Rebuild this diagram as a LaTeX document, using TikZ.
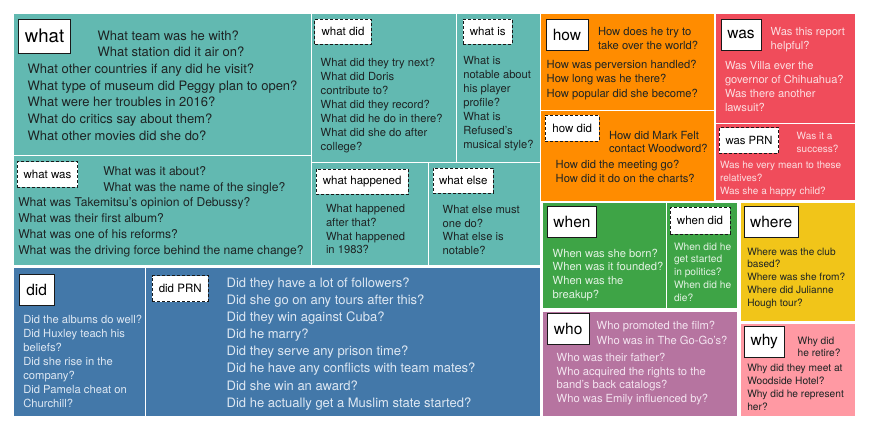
\documentclass[tikz,border=0pt]{standalone}
\usepackage{fontspec}
\setmainfont{TeX Gyre Heros}
\definecolor{cteal}{RGB}{98,185,177}
\definecolor{cblue}{RGB}{67,120,169}
\definecolor{corange}{RGB}{255,140,0}
\definecolor{cred}{RGB}{240,76,91}
\definecolor{cgreen}{RGB}{62,164,70}
\definecolor{cyellow}{RGB}{241,197,25}
\definecolor{cpurple}{RGB}{182,116,160}
\definecolor{cpink}{RGB}{255,153,163}
\definecolor{tdark}{RGB}{30,36,36}
\definecolor{tlred}{RGB}{252,222,225}
\definecolor{tlblue}{RGB}{222,232,243}
\definecolor{tlgreen}{RGB}{226,242,226}
\definecolor{tlpurple}{RGB}{244,228,240}
\newcommand{\fsz}[2]{\fontsize{#1}{#2}\selectfont}
\tikzset{
  cell/.style={fill=#1, draw=none},
  qt/.style={anchor=north west, inner sep=0pt, outer sep=0pt, align=left},
  lab/.style={draw=black!90, fill=white, line width=0.8pt, inner sep=0pt, anchor=center, text=black},
  dlab/.style={lab, dash pattern=on 3pt off 2pt},
}
\begin{document}
\begin{tikzpicture}[x=1pt,y=-1pt]
\useasboundingbox (0,0) rectangle (872,438);
\fill[white] (0,0) rectangle (872,438);
% teal cells
\fill[cell=cteal] (13.5,14.5) rectangle (311,155);
\fill[cell=cteal] (312,14.5) rectangle (455.5,162.5);
\fill[cell=cteal] (456.5,14.5) rectangle (540,162.5);
\fill[cell=cteal] (13.5,156) rectangle (311,265);
\fill[cell=cteal] (312,163.5) rectangle (428,265);
\fill[cell=cteal] (429,163.5) rectangle (540,265);
% blue cells
\fill[cell=cblue] (14,268) rectangle (144.5,416);
\fill[cell=cblue] (145.5,268) rectangle (540,416);
% orange
\fill[cell=corange] (541.3,14.5) rectangle (714.3,110.5);
\fill[cell=corange] (541.3,111.5) rectangle (714.3,201);
% red
\fill[cell=cred] (715.7,14.5) rectangle (855,123.3);
\fill[cell=cred] (715.7,124.3) rectangle (855,200.5);
% green
\fill[cell=cgreen] (542.7,203.3) rectangle (666.3,308.3);
\fill[cell=cgreen] (667.3,203.3) rectangle (736.7,308.3);
% yellow, purple, pink
\fill[cell=cyellow] (740.7,203.3) rectangle (855,320.7);
\fill[cell=cpurple] (543.3,311.7) rectangle (736.7,416);
\fill[cell=cpink] (740.7,324) rectangle (855,416);

% labels
\node[lab, minimum width=52pt, minimum height=34pt, font=\fsz{18.6}{20}] (Lwhat) at (44.6,36) {what};
\node[dlab, minimum width=56.6pt, minimum height=25.3pt, font=\fsz{11.5}{13}] (Lwhatdid) at (343,31.7) {what did};
\node[dlab, minimum width=48.7pt, minimum height=25.3pt, font=\fsz{11.5}{13}] (Lwhatis) at (487.7,31.7) {what is};
\node[dlab, minimum width=60.4pt, minimum height=25.6pt, font=\fsz{11.5}{13}] (Lwhatwas) at (47.5,174.5) {what was};
\node[dlab, minimum width=92.3pt, minimum height=25.3pt, font=\fsz{11.5}{13}] (Lwhathap) at (362.2,181.7) {what happened};
\node[dlab, minimum width=60pt, minimum height=25pt, font=\fsz{11.5}{13}] (Lwhatelse) at (463.3,180.8) {what else};
\node[lab, minimum width=42pt, minimum height=31pt, font=\fsz{15.5}{17}] (Lhow) at (567,34.5) {how};
\node[lab, minimum width=40pt, minimum height=31pt, font=\fsz{15.5}{17}] (Lwas) at (741,34.5) {was};
\node[dlab, minimum width=53.7pt, minimum height=25.7pt, font=\fsz{11.5}{13}] (Lhowdid) at (572.2,128.2) {how did};
\node[dlab, minimum width=59.4pt, minimum height=25.6pt, font=\fsz{11.3}{13}] (Lwasprn) at (749,140.5) {was PRN};
\node[lab, minimum width=49.4pt, minimum height=30.6pt, font=\fsz{15.5}{17}] (Lwhen) at (572,222) {when};
\node[dlab, minimum width=60pt, minimum height=26.7pt, font=\fsz{11.5}{13}] (Lwhendid) at (700,220.7) {when did};
\node[lab, minimum width=54.3pt, minimum height=30.6pt, font=\fsz{15.5}{17}] (Lwhere) at (771.2,222) {where};
\node[lab, minimum width=41.7pt, minimum height=31pt, font=\fsz{15.5}{17}] (Lwho) at (568.2,328.8) {who};
\node[lab, minimum width=40.3pt, minimum height=30.6pt, font=\fsz{15.5}{17}] (Lwhy) at (764.2,342) {why};
\node[lab, minimum width=34.7pt, minimum height=31pt, font=\fsz{15.5}{17}] (Ldid) at (36.7,289.5) {did};
\node[dlab, minimum width=55.7pt, minimum height=26pt, font=\fsz{11.5}{13}] (Ldidprn) at (180.2,288.7) {did PRN};

% question texts
\node[qt, text=tdark, font=\fsz{13}{16.7}] (Qwhat1) at (97.7,30.5) {What team was he with?\\What station did it air on?};
\node[qt, text=tdark, font=\fsz{13}{16.7}] (Qwhat2) at (27.7,63.8) {What other countries if any did he visit?\\What type of museum did Peggy plan to open?\\What were her troubles in 2016?\\What do critics say about them?\\What other movies did she do?};
\node[qt, text=tdark, font=\fsz{11.2}{14}] (Qwhatdid) at (320.7,58.2) {What did they try next?\\What did Doris\\contribute to?\\What did they record?\\What did he do in there?\\What did she do after\\college?};
\node[qt, text=tdark, font=\fsz{11.2}{14}] (Qwhatis) at (463.3,56.8) {What is\\notable about\\his player\\profile?\\What is\\Refused’s\\musical style?};
\node[qt, text=tdark, font=\fsz{12.1}{16.3}] (Qwhatwas1) at (103.3,166.2) {What was it about?\\What was the name of the single?};
\node[qt, text=tdark, font=\fsz{12.1}{16}] (Qwhatwas2) at (18.3,197.9) {What was Takemitsu's opinion of Debussy?\\What was their first album?\\What was one of his reforms?\\What was the driving force behind the name change?};
\node[qt, text=tdark, font=\fsz{11.2}{13.6}] (Qwhathap) at (326,204.8) {What happened\\after that?\\What happened\\in 1983?};
\node[qt, text=tdark, font=\fsz{11.2}{13.6}] (Qwhatelse) at (442.7,205.5) {What else must\\one do?\\What else is\\notable?};
\node[qt, text=tdark, font=\fsz{11.2}{13.8}] (Qhow1) at (598,27.8) {How does he try to\\take over the world?};
\node[qt, text=tdark, font=\fsz{11.2}{14.2}] (Qhow2) at (546.7,60.5) {How was perversion handled?\\How long was he there?\\How popular did she become?};
\node[qt, text=tdark, font=\fsz{11.2}{13.4}] (Qhowdid1) at (609,131.2) {How did Mark Felt\\contact Woodword?};
\node[qt, text=tdark, font=\fsz{11.2}{14.4}] (Qhowdid2) at (555.7,159.8) {How did the meeting go?\\How did it do on the charts?};
\node[qt, text=tlred, font=\fsz{11.1}{14}] (Qwas1) at (770.7,27.9) {Was this report\\helpful?};
\node[qt, text=tlred, font=\fsz{11.1}{13.9}] (Qwas2) at (725,61.3) {Was Villa ever the\\governor of Chihuahua?\\Was there another\\lawsuit?};
\node[qt, text=tlred, font=\fsz{10}{12.7}] (Qwasprn1) at (796.7,132.7) {Was it a\\success?};
\node[qt, text=tlred, font=\fsz{10}{12.8}] (Qwasprn2) at (720,161.7) {Was he very mean to these\\relatives?\\Was she a happy child?};
\node[qt, text=tlgreen, font=\fsz{11.2}{13.7}] (Qwhen) at (552.7,248.8) {When was she born?\\When was it founded?\\When was the\\breakup?};
\node[qt, text=tlgreen, font=\fsz{10.2}{12.75}] (Qwhendid) at (674,242.6) {When did he\\get started\\in politics?\\When did he\\die?};
\node[qt, text=tdark, font=\fsz{10.1}{12.75}] (Qwhere) at (747.3,247.7) {Where was the club\\based?\\Where was she from?\\Where did Julianne\\Hough tour?};
\node[qt, text=tlpurple, font=\fsz{11.2}{14.7}] (Qwho1) at (596.7,321.5) {Who promoted the film?\\Who was in The Go-Go’s?};
\node[qt, text=tlpurple, font=\fsz{11.2}{13.9}] (Qwho2) at (556.7,352.8) {Who was their father?\\Who acquired the rights to the\\band’s back catalogs?\\Who was Emily influenced by?};
\node[qt, text=tdark, font=\fsz{10.2}{12.6}] (Qwhy1) at (797.7,336.6) {Why did\\he retire?};
\node[qt, text=tdark, font=\fsz{10.2}{13}] (Qwhy2) at (747.3,364.2) {Why did they meet at\\Woodside Hotel?\\Why did he represent\\her?};
\node[qt, text=tlblue, font=\fsz{11.2}{13.9}] (Qdid) at (23.3,315.5) {Did the albums do well?\\Did Huxley teach his\\beliefs?\\Did she rise in the\\company?\\Did Pamela cheat on\\Churchill?};
\node[qt, text=tlblue, font=\fsz{13}{17.15}] (Qdidprn) at (226.7,277.5) {Did they have a lot of followers?\\Did she go on any tours after this?\\Did they win against Cuba?\\Did he marry?\\Did they serve any prison time?\\Did he have any conflicts with team mates?\\Did she win an award?\\Did he actually get a Muslim state started?};
\end{tikzpicture}
\end{document}
